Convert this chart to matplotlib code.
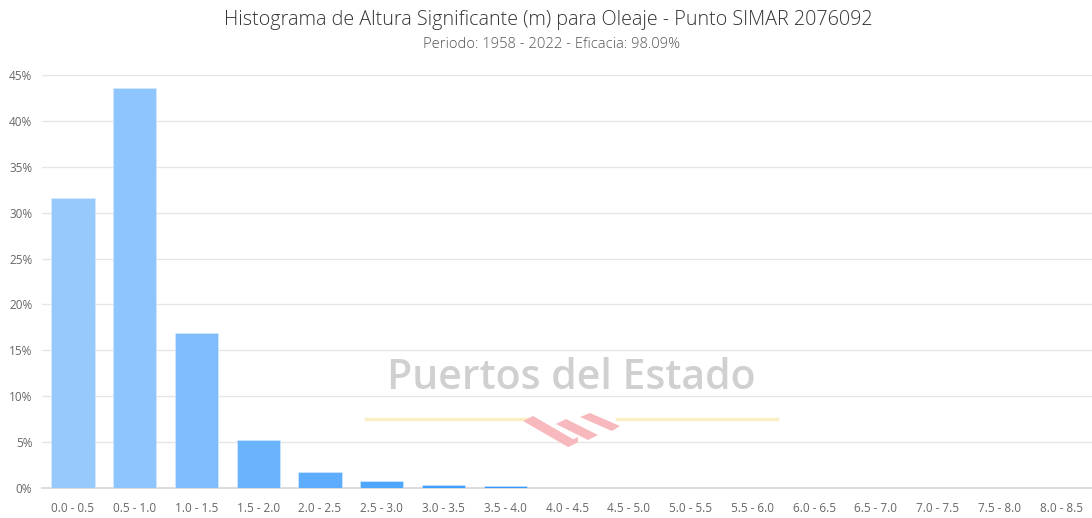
import matplotlib.pyplot as plt
from matplotlib.patches import Polygon
from matplotlib.lines import Line2D

plt.rcParams['font.family'] = ['Open Sans', 'DejaVu Sans']

rangos = ['0.0 - 0.5', '0.5 - 1.0', '1.0 - 1.5', '1.5 - 2.0', '2.0 - 2.5', '2.5 - 3.0',
          '3.0 - 3.5', '3.5 - 4.0', '4.0 - 4.5', '4.5 - 5.0', '5.0 - 5.5', '5.5 - 6.0',
          '6.0 - 6.5', '6.5 - 7.0', '7.0 - 7.5', '7.5 - 8.0', '8.0 - 8.5']
porcentaje = [31.65, 43.55, 16.85, 5.28, 1.72, 0.72, 0.3, 0.2, 0.02,
              0, 0, 0, 0, 0, 0, 0, 0]
colores = ['#97c9fc', '#8ec5fc', '#80bdfc', '#6ab4fd', '#5eacfd', '#4ea6fd',
           '#3e9efc', '#3598fc', '#2d93fc', '#268efb', '#268efb', '#268efb',
           '#268efb', '#268efb', '#268efb', '#268efb', '#268efb']

W, H = 1092, 518
fig = plt.figure(figsize=(W / 100, H / 100), dpi=100)
ax = fig.add_axes([42 / W, (H - 488) / H, (W - 42) / W, 413 / H])

x = range(len(rangos))
ax.bar(x, porcentaje, width=0.70, color=colores, edgecolor='#d8ebff', linewidth=0.4, zorder=3)

ax.set_xlim(-0.5, len(rangos) - 0.5)
ax.set_ylim(0, 45)
ax.set_yticks(range(0, 46, 5))
ax.set_yticklabels([f'{v}%' for v in range(0, 46, 5)])
ax.set_xticks(list(x))
ax.set_xticklabels(rangos)
ax.tick_params(axis='both', length=0, labelsize=8.5, labelcolor='#666666')
ax.tick_params(axis='x', pad=10)
ax.tick_params(axis='y', pad=7)
ax.grid(axis='y', color='#e6e6e6', linewidth=1, zorder=0)
for s in ['top', 'right', 'left']:
    ax.spines[s].set_visible(False)
ax.spines['bottom'].set_color('#dddddd')
ax.spines['bottom'].set_linewidth(1.5)
ax.spines['bottom'].set_zorder(2)


def px(px_x, px_y):
    return (px_x / W, 1 - px_y / H)


fig.text(*px(548, 20), 'Histograma de Altura Significante (m) para Oleaje - Punto SIMAR 2076092',
         ha='center', va='center', fontsize=14.2, fontweight='light', color='#333333')
fig.text(*px(552, 44), 'Periodo: 1958 - 2022 - Eficacia: 98.09%',
         ha='center', va='center', fontsize=10.6, fontweight='light', color='#555555')

# marca de agua
fig.text(*px(571, 378), 'Puertos del Estado', ha='center', va='center',
         fontsize=29.5, fontweight='semibold', color='#d0d0d0', zorder=5)
for x0, x1 in [(366, 527), (617, 777)]:
    fig.add_artist(Line2D([x0 / W, x1 / W], [1 - 419 / H] * 2, color='#fcefc4', lw=2.5, zorder=5))
logo = [
    [(523, 421), (568, 447), (578, 442), (533, 416)],
    [(556, 424), (588, 440), (598, 435), (566, 419)],
    [(580, 417), (612, 431), (620, 426), (590, 413)],
    [(568, 447), (578, 442), (578, 437), (568, 442)],
]
for pts in logo:
    fig.add_artist(Polygon([px(a, b) for a, b in pts], closed=True,
                           facecolor='#f7b9bd', edgecolor='none', zorder=5))

fig.savefig('out.png', dpi=100, facecolor='white')
